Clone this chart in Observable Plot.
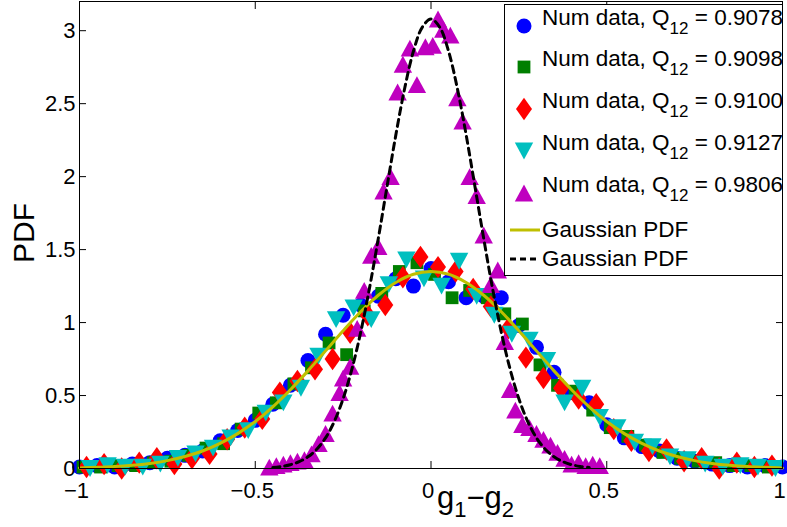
<!DOCTYPE html>
<html><head><meta charset="utf-8">
<script src="https://cdn.jsdelivr.net/npm/d3@7"></script>
<script src="https://cdn.jsdelivr.net/npm/@observablehq/plot@0.6"></script>
<style>
body{margin:0;background:#fff;}
#chart{position:relative;width:787px;height:527px;}
svg{font-family:"Liberation Sans",Arial,sans-serif;}
</style></head><body><div id="chart"></div>
<script>
// ---- data ----
const xTicks = [-1, -0.5, 0, 0.5, 1];
const yTicks = [0, 0.5, 1, 1.5, 2, 2.5, 3];
const seriesNames = ["0.9078", "0.9098", "0.9100", "0.9127", "0.9806"];
const curveNames = ["Gaussian PDF", "Gaussian PDF"];

const blueX = [-1,-0.95,-0.9,-0.85,-0.8,-0.75,-0.7,-0.65,-0.6,-0.55,-0.5,-0.45,-0.4,-0.35,-0.3,-0.25,-0.2,-0.15,-0.1,-0.05,0,0.05,0.1,0.15,0.2,0.25,0.3,0.35,0.4,0.45,0.5,0.55,0.6,0.65,0.7,0.75,0.8,0.85,0.9,0.95,1];
const blueY = [0.01,0.02,0.01,0.03,0.04,0.07,0.09,0.12,0.19,0.26,0.33,0.44,0.57,0.74,0.92,1.05,1.12,1.18,1.30,1.25,1.37,1.28,1.17,1.18,1.17,0.98,0.83,0.66,0.52,0.45,0.30,0.21,0.15,0.12,0.07,0.05,0.03,0.02,0.01,0.02,0.01];

const greenX = [-0.99,-0.94,-0.89,-0.84,-0.79,-0.74,-0.69,-0.64,-0.59,-0.54,-0.49,-0.44,-0.39,-0.34,-0.29,-0.24,-0.19,-0.14,-0.09,-0.04,0.01,0.06,0.11,0.16,0.21,0.26,0.31,0.36,0.41,0.46,0.51,0.56,0.61,0.66,0.71,0.76,0.81,0.86,0.91,0.96];
const greenY = [0.01,0.01,0.02,0.02,0.04,0.05,0.09,0.14,0.17,0.27,0.38,0.45,0.58,0.69,0.86,0.78,1.08,1.20,1.35,1.41,1.33,1.17,1.22,1.17,1.06,0.99,0.71,0.57,0.53,0.40,0.28,0.22,0.16,0.11,0.07,0.05,0.04,0.02,0.02,0.01];

const redX = [-0.98,-0.93,-0.88,-0.83,-0.78,-0.73,-0.68,-0.63,-0.58,-0.53,-0.48,-0.43,-0.38,-0.33,-0.28,-0.23,-0.18,-0.13,-0.08,-0.03,0.02,0.07,0.12,0.17,0.22,0.27,0.32,0.37,0.42,0.47,0.52,0.57,0.62,0.67,0.72,0.77,0.82,0.87,0.92,0.97];
const redY = [0.01,0.03,0.00,0.04,0.07,0.03,0.07,0.10,0.20,0.28,0.34,0.52,0.60,0.68,0.75,0.93,1.05,1.12,1.31,1.45,1.38,1.35,1.23,1.11,0.96,0.76,0.62,0.55,0.48,0.44,0.27,0.19,0.12,0.13,0.05,0.07,0.00,0.04,0.01,0.02];

const cyanX = [-0.97,-0.92,-0.87,-0.82,-0.77,-0.72,-0.67,-0.62,-0.57,-0.52,-0.47,-0.42,-0.37,-0.32,-0.27,-0.22,-0.17,-0.12,-0.07,-0.02,0.03,0.08,0.13,0.18,0.23,0.28,0.33,0.38,0.43,0.48,0.53,0.58,0.63,0.68,0.73,0.78,0.83,0.88,0.93,0.98];
const cyanY = [0.00,0.02,0.01,0.01,0.03,0.07,0.10,0.14,0.21,0.26,0.38,0.45,0.55,0.77,1.02,1.10,1.02,1.26,1.43,1.30,1.25,1.42,1.18,1.05,0.92,0.88,0.74,0.45,0.55,0.35,0.28,0.18,0.15,0.08,0.06,0.03,0.01,0.02,0.01,0.00];

const magentaX = [-0.46,-0.44,-0.42,-0.40,-0.38,-0.36,-0.34,-0.32,-0.30,-0.28,-0.26,-0.25,-0.23,-0.21,-0.19,-0.17,-0.15,-0.135,-0.115,-0.095,-0.08,-0.06,-0.04,-0.016,0.005,0.02,0.035,0.055,0.075,0.09,0.11,0.13,0.15,0.17,0.19,0.21,0.225,0.24,0.26,0.28,0.30,0.32,0.34,0.36,0.38,0.40,0.42,0.44,0.46,0.48];
const magentaY = [0.01,0.02,0.03,0.04,0.05,0.06,0.10,0.17,0.24,0.38,0.52,0.62,0.70,0.96,1.22,1.46,1.52,1.90,2.00,2.58,2.77,2.88,2.63,2.89,2.90,3.08,3.01,2.97,2.54,2.38,2.00,1.87,1.60,1.26,1.36,0.87,0.54,0.40,0.30,0.28,0.24,0.20,0.16,0.11,0.07,0.03,0.04,0.02,0.03,0.02];

const gaussX = [-1,-0.95,-0.9,-0.85,-0.8,-0.75,-0.7,-0.65,-0.6,-0.55,-0.5,-0.45,-0.4,-0.35,-0.3,-0.25,-0.2,-0.15,-0.1,-0.05,0,0.05,0.1,0.15,0.2,0.25,0.3,0.35,0.4,0.45,0.5,0.55,0.6,0.65,0.7,0.75,0.8,0.85,0.9,0.95,1];
const gaussY = [0.004,0.008,0.013,0.022,0.035,0.054,0.082,0.120,0.172,0.239,0.322,0.423,0.540,0.669,0.806,0.944,1.074,1.187,1.275,1.331,1.350,1.331,1.275,1.187,1.074,0.944,0.806,0.669,0.540,0.423,0.322,0.239,0.172,0.120,0.082,0.054,0.035,0.022,0.013,0.008,0.004];

const narrowX = [-0.45,-0.425,-0.4,-0.375,-0.35,-0.325,-0.3,-0.275,-0.25,-0.225,-0.2,-0.175,-0.15,-0.125,-0.1,-0.075,-0.05,-0.025,0,0.025,0.05,0.075,0.1,0.125,0.15,0.175,0.2,0.225,0.25,0.275,0.3,0.325,0.35,0.375,0.4,0.425,0.45];
const narrowY = [0.007,0.014,0.026,0.047,0.080,0.132,0.210,0.323,0.478,0.681,0.934,1.236,1.575,1.933,2.286,2.604,2.859,3.023,3.080,3.023,2.859,2.604,2.286,1.933,1.575,1.236,0.934,0.681,0.478,0.323,0.210,0.132,0.080,0.047,0.026,0.014,0.007];

// ---- build tables ----
const zip = (xs, ys) => xs.map((x, i) => ({x, y: ys[i]}));
const blue = zip(blueX, blueY), green = zip(greenX, greenY), red = zip(redX, redY),
      cyan = zip(cyanX, cyanY), magenta = zip(magentaX, magentaY),
      gauss = zip(gaussX, gaussY), narrow = zip(narrowX, narrowY);

// ---- marker shapes (MATLAB-like) ----
const rad = s => Math.sqrt(s / Math.PI);
const circleSym = {draw(c, s){ const r = rad(s); c.moveTo(r, 0); c.arc(0, 0, r, 0, 2 * Math.PI); }};
const squareSym = {draw(c, s){ const h = 0.8 * rad(s); c.rect(-h, -h, 2 * h, 2 * h); }};
const diamondSym = {draw(c, s){ const r = rad(s); c.moveTo(0, -1.4 * r); c.lineTo(r, 0); c.lineTo(0, 1.4 * r); c.lineTo(-r, 0); c.closePath(); }};
const triUpSym = {draw(c, s){ const r = rad(s); c.moveTo(0, -1.05 * r); c.lineTo(1.15 * r, 1.05 * r); c.lineTo(-1.15 * r, 1.05 * r); c.closePath(); }};
const triDownSym = {draw(c, s){ const r = rad(s); c.moveTo(0, 1.05 * r); c.lineTo(1.15 * r, -1.05 * r); c.lineTo(-1.15 * r, -1.05 * r); c.closePath(); }};

const colors = ["#0000ff", "#007f00", "#ff0000", "#00bfbf", "#bf00bf"];
const symbols = [circleSym, squareSym, diamondSym, triDownSym, triUpSym];
const lineColor = "#bfbf00";
const FONT = "Liberation Sans, Arial, sans-serif";
const fmt = d3.format("~g");

const chart = Plot.plot({
  width: 787, height: 527,
  marginLeft: 79, marginRight: 5, marginTop: 1, marginBottom: 59,
  x: {domain: [-1, 1]},
  y: {domain: [0, 3.2]},
  style: {fontFamily: FONT, fontSize: "22px", color: "black", background: "white"},
  marks: [
    Plot.dot(blue, {x: "x", y: "y", r: 7.5, symbol: circleSym, fill: colors[0]}),
    Plot.dot(green, {x: "x", y: "y", r: 8, symbol: squareSym, fill: colors[1]}),
    Plot.dot(red, {x: "x", y: "y", r: 8, symbol: diamondSym, fill: colors[2]}),
    Plot.dot(cyan, {x: "x", y: "y", r: 8, symbol: triDownSym, fill: colors[3]}),
    Plot.dot(magenta, {x: "x", y: "y", r: 8, symbol: triUpSym, fill: colors[4]}),
    Plot.line(gauss, {x: "x", y: "y", stroke: lineColor, strokeWidth: 3, curve: "catmull-rom"}),
    Plot.line(narrow, {x: "x", y: "y", stroke: "black", strokeWidth: 3, strokeDasharray: "7,5", curve: "catmull-rom"}),
    Plot.frame({stroke: "black"}),
    // inward tick marks on all four sides
    Plot.axisX({ticks: xTicks, anchor: "bottom", tickSize: 7, dy: -7, tickFormat: () => "", label: null}),
    Plot.axisX({ticks: xTicks, anchor: "top", tickSize: 7, dy: 7, tickFormat: () => "", label: null}),
    Plot.axisY({ticks: yTicks, anchor: "left", tickSize: 7, dx: 7, tickFormat: () => "", label: null}),
    Plot.axisY({ticks: yTicks, anchor: "right", tickSize: 7, dx: -7, tickFormat: () => "", label: null}),
    // tick labels
    Plot.axisX({ticks: xTicks, anchor: "bottom", tickSize: 0, tickPadding: 14, dx: -3, label: null, tickFormat: fmt, fontSize: 22}),
    Plot.axisY({ticks: yTicks, anchor: "left", tickSize: 0, tickPadding: 4, label: null, tickFormat: fmt, fontSize: 22})
  ]
});
document.getElementById("chart").appendChild(chart);

const svg = d3.select(chart);

// axis titles
svg.append("text").attr("transform", "translate(34,233) rotate(-90)")
  .attr("text-anchor", "middle").attr("font-family", FONT).attr("font-size", 30).attr("fill", "black").text("PDF");
const xl = svg.append("text").attr("x", 437).attr("y", 508).attr("text-anchor", "start")
  .attr("font-family", FONT).attr("font-size", 31).attr("fill", "black");
xl.append("tspan").text("g");
xl.append("tspan").attr("dy", 9).attr("font-size", 22).text("1");
xl.append("tspan").attr("dy", -9).text("\u2212g");
xl.append("tspan").attr("dy", 9).attr("font-size", 22).text("2");

// legend
const lg = svg.append("g").attr("font-family", FONT).attr("font-size", 22.5).attr("fill", "black").attr("text-anchor", "start");
lg.append("rect").attr("x", 504.5).attr("y", 4.5).attr("width", 278).attr("height", 271)
  .attr("fill", "white").attr("stroke", "black").attr("stroke-width", 1);
const baselines = [25, 66, 108, 150, 192];
seriesNames.forEach((v, i) => {
  const b = baselines[i];
  lg.append("path").attr("transform", `translate(524,${b + 1})`)
    .attr("d", d3.symbol(symbols[i], Math.PI * (i === 0 ? 7.5 * 7.5 : 64))())
    .attr("fill", colors[i]);
  const t = lg.append("text").attr("x", 542).attr("y", b).attr("text-anchor", "start");
  t.append("tspan").text("Num data, Q");
  t.append("tspan").attr("dy", 9).attr("font-size", 17).text("12");
  t.append("tspan").attr("dy", -9).text(" = " + v);
});
const curveRows = [[230, 237, lineColor, null], [259, 266, "black", "7,5"]];
curveNames.forEach((name, i) => {
  const [ly, ty, col, dash] = curveRows[i];
  const l = lg.append("line").attr("x1", 510).attr("x2", 540).attr("y1", ly).attr("y2", ly)
    .attr("stroke", col).attr("stroke-width", 3);
  if (dash) l.attr("stroke-dasharray", "6,4");
  lg.append("text").attr("x", 542).attr("y", ty).attr("text-anchor", "start").text(name);
});
</script>
</body></html>
